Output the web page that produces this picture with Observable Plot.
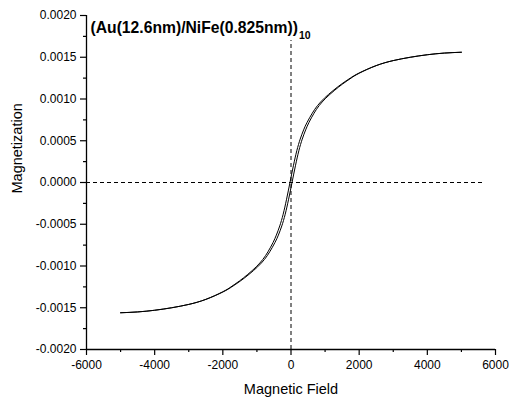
<!DOCTYPE html>
<html>
<head>
<meta charset="utf-8">
<script src="https://cdn.jsdelivr.net/npm/d3@7"></script>
<script src="https://cdn.jsdelivr.net/npm/@observablehq/plot@0.6"></script>
<style>
  html, body { margin: 0; padding: 0; background: #fff; }
  svg { display: block; }
</style>
</head>
<body>
<div id="chart"></div>
<script>
// Descending-field branch (coming from + saturation)
const fieldDown = [5000, 4500, 4000, 3500, 2998, 2495, 1991, 1738, 1485, 1232, 979, 776, 624, 472, 370, 270, 170, 70, -30,
                   -130, -230, -330, -430, -528, -676, -824, -1021, -1268, -1515, -1762, -2009, -2505, -3002, -3500, -4000, -4500, -5000];
const magDown   = [0.00156, 0.00155, 0.00153, 0.00150, 0.00146, 0.00140, 0.00131, 0.00125, 0.00118, 0.00110, 0.00101, 0.00092, 0.00083, 0.00072, 0.00063, 0.00052, 0.00038, 0.00020, 0,
                   -0.00020, -0.00038, -0.00052, -0.00063, -0.00072, -0.00083, -0.00092, -0.00101, -0.00110, -0.00118, -0.00125, -0.00131, -0.00140, -0.00146, -0.00150, -0.00153, -0.00155, -0.00156];
// Ascending-field branch (coming from - saturation)
const fieldUp = [-5000, -4500, -4000, -3500, -2998, -2495, -1991, -1738, -1485, -1232, -979, -776, -624, -472, -370, -270, -170, -70, 30,
                 130, 230, 330, 430, 528, 676, 824, 1021, 1268, 1515, 1762, 2009, 2505, 3002, 3500, 4000, 4500, 5000];
const magUp   = [-0.00156, -0.00155, -0.00153, -0.00150, -0.00146, -0.00140, -0.00131, -0.00125, -0.00118, -0.00110, -0.00101, -0.00092, -0.00083, -0.00072, -0.00063, -0.00052, -0.00038, -0.00020, 0,
                 0.00020, 0.00038, 0.00052, 0.00063, 0.00072, 0.00083, 0.00092, 0.00101, 0.00110, 0.00118, 0.00125, 0.00131, 0.00140, 0.00146, 0.00150, 0.00153, 0.00155, 0.00156];

const xDomain = [-6000, 6000];
const yDomain = [-0.002, 0.002];
const xMajorTicks = [-6000, -4000, -2000, 0, 2000, 4000, 6000];
const xMinorTicks = [-5000, -3000, -1000, 1000, 3000, 5000];
const yMajorTicks = [-0.002, -0.0015, -0.001, -0.0005, 0, 0.0005, 0.001, 0.0015, 0.002];
const yMinorTicks = [-0.00175, -0.00125, -0.00075, -0.00025, 0.00025, 0.00075, 0.00125, 0.00175];

// dashed reference lines
const hRefExtent = [-6000, 5700];
const vRefExtent = [-0.002, 0.0017];

const titleText = "(Au(12.6nm)/NiFe(0.825nm))";
const titleSub = "10";
const xLabel = "Magnetic Field";
const yLabel = "Magnetization";

const down = fieldDown.map((H, i) => ({H, M: magDown[i]}));
const up = fieldUp.map((H, i) => ({H, M: magUp[i]}));

const font = "'Liberation Sans', Arial, Helvetica, sans-serif";

const plot = Plot.plot({
  width: 509,
  height: 400,
  marginLeft: 86,
  marginRight: 14,
  marginTop: 15,
  marginBottom: 51,
  style: {fontFamily: font, background: "#fff", color: "#000", overflow: "visible"},
  x: {domain: xDomain, nice: false},
  y: {domain: yDomain, nice: false},
  marks: [
    Plot.ruleY([0], {x1: hRefExtent[0], x2: hRefExtent[1], stroke: "#000", strokeWidth: 1, strokeDasharray: "4,3"}),
    Plot.ruleX([0], {y1: vRefExtent[0], y2: vRefExtent[1], stroke: "#000", strokeWidth: 1, strokeDasharray: "4,3"}),
    Plot.line(down, {x: "H", y: "M", curve: "natural", stroke: "#000", strokeWidth: 1}),
    Plot.line(up, {x: "H", y: "M", curve: "natural", stroke: "#000", strokeWidth: 1}),
    Plot.ruleX([xDomain[0]], {stroke: "#000", strokeWidth: 1.3}),
    Plot.ruleY([yDomain[0]], {stroke: "#000", strokeWidth: 1.3}),
    Plot.axisY({ticks: yMajorTicks, tickSize: 6, tickPadding: 4, tickFormat: d => d.toFixed(4), fontSize: 12, stroke: "#000", strokeWidth: 1.2, label: null}),
    Plot.axisY({ticks: yMinorTicks, tickSize: 3, tickFormat: () => "", stroke: "#000", strokeWidth: 1.2, label: null}),
    Plot.axisX({ticks: xMajorTicks, tickSize: 6, tickPadding: 5, tickFormat: d => String(d), fontSize: 12, stroke: "#000", strokeWidth: 1.2, label: null}),
    Plot.axisX({ticks: xMinorTicks, tickSize: 3, tickFormat: () => "", stroke: "#000", strokeWidth: 1.2, label: null}),
    Plot.text([titleText], {frameAnchor: "top-left", dx: 4, dy: 17.7, lineAnchor: "bottom", textAnchor: "start", fontWeight: "bold", fontSize: 15.7, fill: "#000"}),
    Plot.text([xLabel], {frameAnchor: "bottom", dy: 40, lineAnchor: "middle", fontSize: 14.5, fill: "#000"}),
    Plot.text([yLabel], {frameAnchor: "left", dx: -69, dy: 11, rotate: -90, lineAnchor: "middle", fontSize: 14.5, fill: "#000"})
  ]
});

// add the subscript to the title
d3.select(plot).selectAll("text").each(function () {
  if (this.textContent === titleText) {
    d3.select(this).append("tspan").attr("dx", 1).attr("dy", 6).attr("font-size", 10.5).text(titleSub);
  }
});

document.getElementById("chart").appendChild(plot);
</script>
</body>
</html>
